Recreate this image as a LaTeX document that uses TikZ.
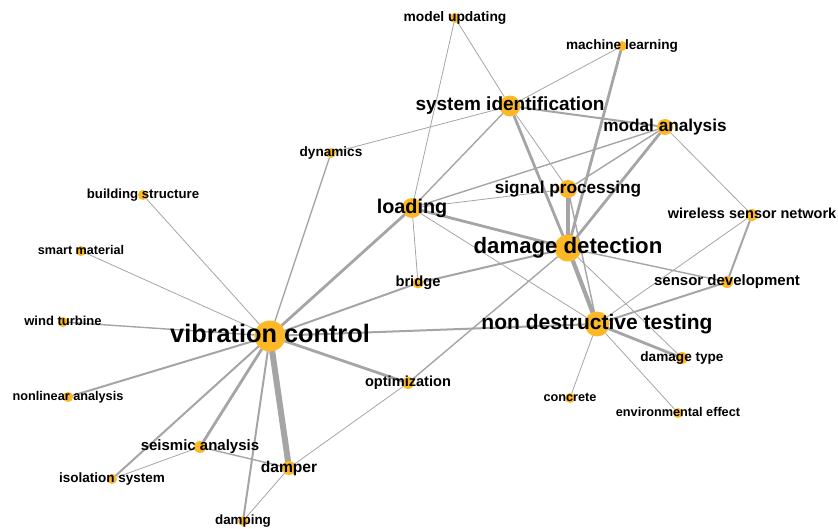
\documentclass[tikz,border=0pt]{standalone}
\usepackage{fontspec}
\setmainfont{Liberation Sans}
\usetikzlibrary{backgrounds}

\definecolor{kworange}{RGB}{252,184,38}
\definecolor{linkgray}{RGB}{165,165,165}

% keyword: name, x, y, dot size, font size, text
\newcommand{\kw}[6]{%
  \node[kwdot, minimum size=#4pt] (#1) at (#2,#3) {};
  \node[kwlabel, font=\fontsize{#5pt}{#5pt}\selectfont\bfseries]
    (#1-l) at ([yshift=-#5*0.26pt]#1.center) {#6};
}

\begin{document}
\begin{tikzpicture}[x=1pt, y=-1pt,
  kwdot/.style={circle, fill=kworange, inner sep=0pt},
  kwlabel/.style={anchor=base, inner sep=0pt, text=black},
  link/.style={draw=linkgray, line cap=round},
  w1/.style={link, line width=0.8pt},
  w2/.style={link, line width=1.4pt},
  w3/.style={link, line width=2pt},
  w4/.style={link, line width=2.8pt},
  w5/.style={link, line width=4.2pt},
  w6/.style={link, line width=6pt}]
\useasboundingbox (0,0) rectangle (838,529);

% keywords
\kw{mu}{455}{18}{10}{13.8}{model updating}
\kw{ml}{622}{46}{10}{13.6}{machine learning}
\kw{sid}{510}{106}{21}{19}{system identification}
\kw{ma}{665}{127}{16}{17.2}{modal analysis}
\kw{dyn}{331}{153}{10}{13.6}{dynamics}
\kw{bs}{143}{195}{10}{13.2}{building structure}
\kw{sp}{568}{189}{18}{17.2}{signal processing}
\kw{ld}{412}{208}{20}{19.8}{loading}
\kw{wsn}{752}{215}{12}{14.5}{wireless sensor network}
\kw{dd}{568}{248}{27}{22.2}{damage detection}
\kw{sm}{81}{251}{10}{12.6}{smart material}
\kw{br}{418}{283}{11}{14.7}{bridge}
\kw{sd}{727}{282}{12}{15}{sensor development}
\kw{wt}{63}{322}{10}{13}{wind turbine}
\kw{vc}{270}{336}{31}{25.3}{vibration control}
\kw{ndt}{597}{324}{25}{21}{non destructive testing}
\kw{opt}{408}{383}{12}{14.6}{optimization}
\kw{dt}{682}{358}{12}{13.6}{damage type}
\kw{nla}{68}{397}{10}{12.7}{nonlinear analysis}
\kw{con}{570}{398}{10}{12.7}{concrete}
\kw{env}{678}{413}{10}{12.7}{environmental effect}
\kw{sa}{200}{447}{12}{15}{seismic analysis}
\kw{dp}{289}{468}{14}{15.6}{damper}
\kw{iso}{112}{479}{10}{13.5}{isolation system}
\kw{dmp}{243}{521}{10}{13.4}{damping}

% links, weight by line width
\begin{scope}[on background layer]
\draw[w1] (vc) -- (bs);
\draw[w1] (vc) -- (sm);
\draw[w2] (vc) -- (wt);
\draw[w3] (vc) -- (nla);
\draw[w2] (vc) -- (dyn);
\draw[w4] (vc) -- (ld);
\draw[w3] (vc) -- (br);
\draw[w3] (vc) -- (ndt);
\draw[w4] (vc) -- (opt);
\draw[w6] (vc) -- (dp);
\draw[w3] (vc) -- (dmp);
\draw[w4] (vc) -- (sa);
\draw[w3] (vc) -- (iso);
\draw[w1] (sa) -- (iso);
\draw[w2] (sa) -- (dp);
\draw[w1] (dp) -- (dmp);
\draw[w1] (dp) -- (opt);
\draw[w2] (opt) -- (dd);
\draw[w1] (mu) -- (ld);
\draw[w1] (mu) -- (sid);
\draw[w1] (dyn) -- (sid);
\draw[w1] (ml) -- (sid);
\draw[w4] (ml) -- (dd);
\draw[w3] (sid) -- (ma);
\draw[w2] (sid) -- (ld);
\draw[w4] (sid) -- (dd);
\draw[w1] (sid) -- (sp);
\draw[w2] (ma) -- (ld);
\draw[w2] (ma) -- (sp);
\draw[w4] (ma) -- (dd);
\draw[w1] (ma) -- (wsn);
\draw[w1] (ld) -- (sp);
\draw[w4] (ld) -- (dd);
\draw[w1] (ld) -- (br);
\draw[w1] (ld) -- (ndt);
\draw[w3] (br) -- (dd);
\draw[w5] (sp) -- (dd);
\draw[w2] (sp) -- (ndt);
\draw[w5] (dd) -- (ndt);
\draw[w1] (dd) -- (dt);
\draw[w2] (dd) -- (sd);
\draw[w1] (ndt) -- (wsn);
\draw[w3] (ndt) -- (sd);
\draw[w3] (wsn) -- (sd);
\draw[w4] (ndt) -- (dt);
\draw[w1] (ndt) -- (con);
\draw[w1] (ndt) -- (env);
\end{scope}

\end{tikzpicture}
\end{document}
